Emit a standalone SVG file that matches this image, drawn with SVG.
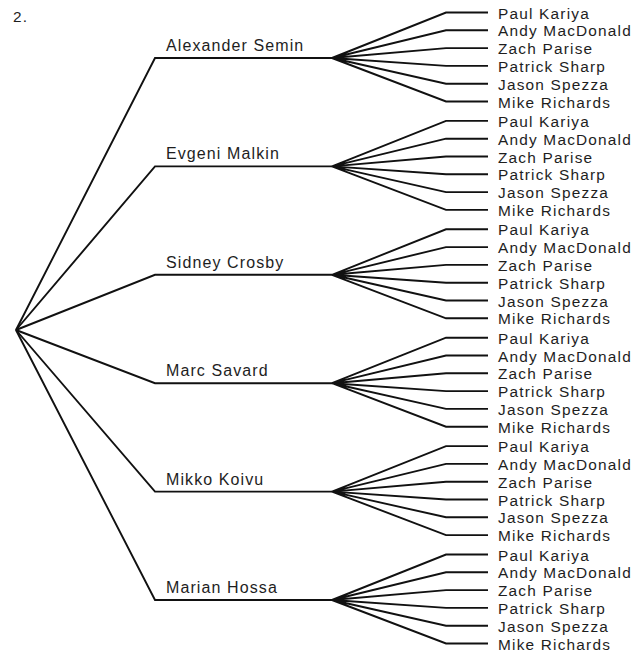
<svg xmlns="http://www.w3.org/2000/svg" width="637" height="654" viewBox="0 0 637 654">
<style>
text{font-family:"Liberation Sans",Arial,sans-serif;font-size:15.4px;letter-spacing:1.2px;fill:#1e1e1e}
.n text{font-size:16px;letter-spacing:1.1px}
.c path{fill:none;stroke:#111;stroke-width:1.9;stroke-linejoin:miter}
</style>
<rect width="637" height="654" fill="#fff"/>
<text id="title" x="13" y="22">2.</text>
<g class="c" id="connectors">
<path d="M16,330 L155,58 L332,58"/>
<path d="M16,330 L155,166.4 L332,166.4"/>
<path d="M16,330 L155,274.8 L332,274.8"/>
<path d="M16,330 L155,383.2 L332,383.2"/>
<path d="M16,330 L155,491.6 L332,491.6"/>
<path d="M16,330 L155,600 L332,600"/>
<path d="M332,58 L446,12.5 L488,12.5 M332,58 L446,30.3 L488,30.3 M332,58 L446,48.1 L488,48.1 M332,58 L446,65.9 L488,65.9 M332,58 L446,83.7 L488,83.7 M332,58 L446,101.5 L488,101.5"/>
<path d="M332,166.4 L446,120.9 L488,120.9 M332,166.4 L446,138.7 L488,138.7 M332,166.4 L446,156.5 L488,156.5 M332,166.4 L446,174.3 L488,174.3 M332,166.4 L446,192.1 L488,192.1 M332,166.4 L446,209.9 L488,209.9"/>
<path d="M332,274.8 L446,229.3 L488,229.3 M332,274.8 L446,247.1 L488,247.1 M332,274.8 L446,264.9 L488,264.9 M332,274.8 L446,282.7 L488,282.7 M332,274.8 L446,300.5 L488,300.5 M332,274.8 L446,318.3 L488,318.3"/>
<path d="M332,383.2 L446,337.7 L488,337.7 M332,383.2 L446,355.5 L488,355.5 M332,383.2 L446,373.3 L488,373.3 M332,383.2 L446,391.1 L488,391.1 M332,383.2 L446,408.9 L488,408.9 M332,383.2 L446,426.7 L488,426.7"/>
<path d="M332,491.6 L446,446.1 L488,446.1 M332,491.6 L446,463.9 L488,463.9 M332,491.6 L446,481.7 L488,481.7 M332,491.6 L446,499.5 L488,499.5 M332,491.6 L446,517.3 L488,517.3 M332,491.6 L446,535.1 L488,535.1"/>
<path d="M332,600 L446,554.5 L488,554.5 M332,600 L446,572.3 L488,572.3 M332,600 L446,590.1 L488,590.1 M332,600 L446,607.9 L488,607.9 M332,600 L446,625.7 L488,625.7 M332,600 L446,643.5 L488,643.5"/>
</g>
<g class="n" id="n-alexander"><text x="166" y="51">Alexander Semin</text></g>
<g class="n" id="n-evgeni"><text x="166" y="159.4">Evgeni Malkin</text></g>
<g class="n" id="n-sidney"><text x="166" y="267.8">Sidney Crosby</text></g>
<g class="n" id="n-marc"><text x="166" y="376.2">Marc Savard</text></g>
<g class="n" id="n-mikko"><text x="166" y="484.6">Mikko Koivu</text></g>
<g class="n" id="n-marian"><text x="166" y="593">Marian Hossa</text></g>
<g id="leaves-1">
<g id="l1-1"><text x="498" y="18.5">Paul Kariya</text></g>
<g id="l1-2"><text x="498" y="36.3">Andy MacDonald</text></g>
<g id="l1-3"><text x="498" y="54.1">Zach Parise</text></g>
<g id="l1-4"><text x="498" y="71.9">Patrick Sharp</text></g>
<g id="l1-5"><text x="498" y="89.7">Jason Spezza</text></g>
<g id="l1-6"><text x="498" y="107.5">Mike Richards</text></g>
</g>
<g id="leaves-2">
<g id="l2-1"><text x="498" y="126.9">Paul Kariya</text></g>
<g id="l2-2"><text x="498" y="144.7">Andy MacDonald</text></g>
<g id="l2-3"><text x="498" y="162.5">Zach Parise</text></g>
<g id="l2-4"><text x="498" y="180.3">Patrick Sharp</text></g>
<g id="l2-5"><text x="498" y="198.1">Jason Spezza</text></g>
<g id="l2-6"><text x="498" y="215.9">Mike Richards</text></g>
</g>
<g id="leaves-3">
<g id="l3-1"><text x="498" y="235.3">Paul Kariya</text></g>
<g id="l3-2"><text x="498" y="253.1">Andy MacDonald</text></g>
<g id="l3-3"><text x="498" y="270.9">Zach Parise</text></g>
<g id="l3-4"><text x="498" y="288.7">Patrick Sharp</text></g>
<g id="l3-5"><text x="498" y="306.5">Jason Spezza</text></g>
<g id="l3-6"><text x="498" y="324.3">Mike Richards</text></g>
</g>
<g id="leaves-4">
<g id="l4-1"><text x="498" y="343.7">Paul Kariya</text></g>
<g id="l4-2"><text x="498" y="361.5">Andy MacDonald</text></g>
<g id="l4-3"><text x="498" y="379.3">Zach Parise</text></g>
<g id="l4-4"><text x="498" y="397.1">Patrick Sharp</text></g>
<g id="l4-5"><text x="498" y="414.9">Jason Spezza</text></g>
<g id="l4-6"><text x="498" y="432.7">Mike Richards</text></g>
</g>
<g id="leaves-5">
<g id="l5-1"><text x="498" y="452.1">Paul Kariya</text></g>
<g id="l5-2"><text x="498" y="469.9">Andy MacDonald</text></g>
<g id="l5-3"><text x="498" y="487.7">Zach Parise</text></g>
<g id="l5-4"><text x="498" y="505.5">Patrick Sharp</text></g>
<g id="l5-5"><text x="498" y="523.3">Jason Spezza</text></g>
<g id="l5-6"><text x="498" y="541.1">Mike Richards</text></g>
</g>
<g id="leaves-6">
<g id="l6-1"><text x="498" y="560.5">Paul Kariya</text></g>
<g id="l6-2"><text x="498" y="578.3">Andy MacDonald</text></g>
<g id="l6-3"><text x="498" y="596.1">Zach Parise</text></g>
<g id="l6-4"><text x="498" y="613.9">Patrick Sharp</text></g>
<g id="l6-5"><text x="498" y="631.7">Jason Spezza</text></g>
<g id="l6-6"><text x="498" y="649.5">Mike Richards</text></g>
</g>
</svg>
